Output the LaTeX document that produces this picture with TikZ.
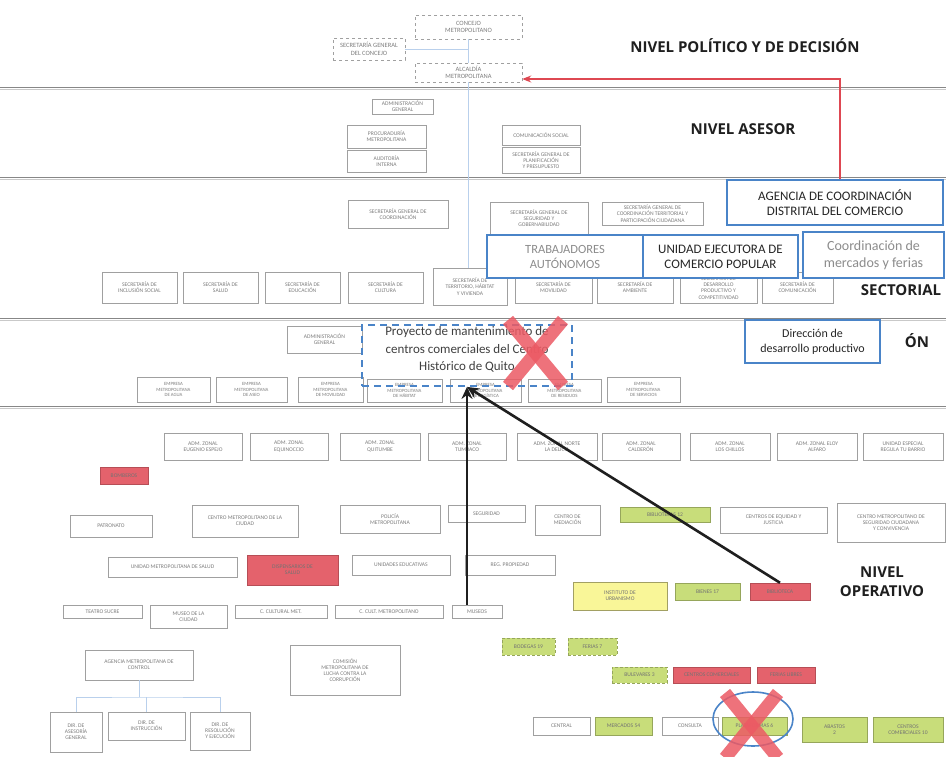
\documentclass[tikz,border=0pt]{standalone}
\usepackage{fontspec}
\setmainfont{Carlito}
\newfontfamily\lvlfont{Open Sans}
\usetikzlibrary{arrows.meta}

\definecolor{boxline}{RGB}{160,160,160}
\definecolor{boxtext}{RGB}{125,125,125}
\definecolor{redfill}{RGB}{228,98,108}
\definecolor{greenfill}{RGB}{200,221,122}
\definecolor{yellowfill}{RGB}{249,246,152}
\definecolor{bluefr}{RGB}{74,132,200}
\definecolor{arrowred}{RGB}{222,72,82}
\definecolor{crossred}{RGB}{236,90,100}
\definecolor{levelline}{RGB}{135,135,135}
\definecolor{guide}{RGB}{185,208,236}

% box from corner (x1,y1) to corner (x2,y2), in pixel units
\newcommand\orgbox[7]{%
  \node[#6, minimum width={(#4)-(#2)}, minimum height={(#5)-(#3)}]
    (#1) at ({((#2)+(#4))/2},{((#3)+(#5))/2}) {#7};}

\tikzset{
  sbox/.style={draw=boxline, line width=0.5pt, fill=white, inner sep=0pt,
    align=center, text=boxtext, font=\fontsize{5.6}{6.2}\selectfont},
  ebox/.style={sbox, font=\fontsize{4.8}{5.3}\selectfont},
  topb/.style={sbox, dashed, font=\fontsize{6.5}{7.5}\selectfont},
  redb/.style={sbox, fill=redfill, draw=redfill!80!black, text=black!55},
  grnb/.style={sbox, fill=greenfill, draw=greenfill!75!black, text=black!55},
  grnd/.style={grnb, densely dashed},
  yelb/.style={sbox, fill=yellowfill, draw=yellowfill!65!black, text=black!55},
  bluebox/.style={draw=bluefr, line width=1.8pt, fill=white, inner sep=0pt,
    align=center, text=black!85, font=\fontsize{13}{15}\selectfont},
  projbox/.style={draw=bluefr, line width=1.8pt, dash pattern=on 7pt off 5pt,
    inner sep=0pt, align=center, text=black!75, font=\fontsize{13}{17.5}\selectfont},
  lvl/.style={font=\lvlfont\bfseries\fontsize{15}{17}\selectfont, inner sep=0pt,
    align=center, text=black!88},
  levelrule/.style={draw=levelline, line width=1pt},
  levelrule2/.style={draw=levelline!45, line width=0.8pt},
  guideline/.style={draw=guide, line width=0.5pt},
  blkarrow/.style={draw=black!88, line width=2.6pt, -{Stealth[length=12pt,width=11pt]}},
  redarrow/.style={draw=arrowred, line width=1.3pt, -{Stealth[length=9pt,width=7pt]}},
  crossmark/.style={draw=crossred, line width=13pt, opacity=0.85},
}

\begin{document}
\begin{tikzpicture}[x=1pt, y=-1pt]
\useasboundingbox[fill=white] (0,0) rectangle (946,756);

% ---- level separators ----
\foreach \yy in {87,177,318,406}{
  \draw[levelrule] (0,\yy) -- (946,\yy);
  \draw[levelrule2] (0,\yy+2.5) -- (946,\yy+2.5);
}

% ---- political level ----
\orgbox{concejo}{415}{15}{522}{39}{topb}{CONCEJO\\METROPOLITANO}
\orgbox{secgen}{333}{38}{405}{60}{topb}{SECRETARÍA GENERAL\\DEL CONCEJO}
\orgbox{alcaldia}{415}{63}{522}{82}{topb}{ALCALDÍA\\METROPOLITANA}

% ---- advisory level ----
\orgbox{ases1}{372}{99}{433}{114}{sbox}{ADMINISTRACIÓN\\GENERAL}
\orgbox{ases2}{347}{125}{426}{148}{sbox}{PROCURADURÍA\\METROPOLITANA}
\orgbox{ases3}{347}{150}{426}{172}{sbox}{AUDITORÍA\\INTERNA}
\orgbox{ases4}{502}{125}{580}{145}{sbox}{COMUNICACIÓN SOCIAL}
\orgbox{ases5}{502}{147}{580}{173}{sbox}{SECRETARÍA GENERAL DE\\PLANIFICACIÓN\\Y PRESUPUESTO}

% ---- sectorial level ----
\orgbox{coord1}{348}{200}{448}{228}{sbox}{SECRETARÍA GENERAL DE\\COORDINACIÓN}
\orgbox{coord2}{490}{202}{588}{234}{sbox}{SECRETARÍA GENERAL DE\\SEGURIDAD Y\\GOBERNABILIDAD}
\orgbox{coord3}{602}{202}{703}{225}{sbox}{SECRETARÍA GENERAL DE\\COORDINACIÓN TERRITORIAL Y\\PARTICIPACIÓN CIUDADANA}

\orgbox{sec1}{102}{272}{177}{303}{sbox}{SECRETARÍA DE\\INCLUSIÓN SOCIAL}
\orgbox{sec2}{183}{272}{258}{303}{sbox}{SECRETARÍA DE\\SALUD}
\orgbox{sec3}{265}{272}{340}{303}{sbox}{SECRETARÍA DE\\EDUCACIÓN}
\orgbox{sec4}{348}{272}{423}{303}{sbox}{SECRETARÍA DE\\CULTURA}
\orgbox{sec5}{433}{268}{507}{305}{sbox}{SECRETARÍA DE\\TERRITORIO, HÁBITAT\\Y VIVIENDA}
\orgbox{sec6}{515}{272}{592}{303}{sbox}{SECRETARÍA DE\\MOVILIDAD}
\orgbox{sec7}{597}{272}{673}{303}{sbox}{SECRETARÍA DE\\AMBIENTE}
\orgbox{sec8}{680}{272}{757}{303}{sbox}{SECRETARÍA DE\\DESARROLLO\\PRODUCTIVO Y\\COMPETITIVIDAD}
\orgbox{sec9}{762}{272}{833}{303}{sbox}{SECRETARÍA DE\\COMUNICACIÓN}

% ---- faint chart connectors ----
\draw[guideline] (concejo) -- (alcaldia);
\draw[guideline] (secgen.east) -- (secgen.east -| concejo.south);
\draw[guideline] (alcaldia.south) -- (alcaldia.south |- sec5.north);

% ---- trade agency and its units ----
\orgbox{agencia}{727}{180}{943}{225}{bluebox}{AGENCIA DE COORDINACIÓN\\DISTRITAL DEL COMERCIO}
\orgbox{trabaj}{487}{235}{643}{278}{bluebox, text=black!45, font=\fontsize{12.5}{15}\selectfont}{TRABAJADORES\\AUTÓNOMOS}
\orgbox{ucp}{643}{235}{798}{278}{bluebox}{UNIDAD EJECUTORA DE\\COMERCIO POPULAR}
\orgbox{mercados}{803}{232}{944}{278}{bluebox, text=black!45, font=\fontsize{14}{17}\selectfont}{Coordinación de\\mercados y ferias}

% ---- management level ----
\orgbox{ent1}{137}{377}{210}{402}{ebox}{EMPRESA\\METROPOLITANA\\DE AGUA}
\orgbox{ent2}{216}{377}{287}{402}{ebox}{EMPRESA\\METROPOLITANA\\DE ASEO}
\orgbox{ent3}{298}{377}{363}{402}{ebox}{EMPRESA\\METROPOLITANA\\DE MOVILIDAD}
\orgbox{ent4}{367}{379}{442}{402}{ebox}{EMPRESA\\METROPOLITANA\\DE HÁBITAT}
\orgbox{ent5}{450}{379}{521}{402}{ebox}{EMPRESA\\METROPOLITANA\\DE LOGÍSTICA}
\orgbox{ent6}{528}{379}{601}{402}{ebox}{EMPRESA\\METROPOLITANA\\DE RESIDUOS}
\orgbox{ent7}{607}{377}{680}{402}{ebox}{EMPRESA\\METROPOLITANA\\DE SERVICIOS}

\orgbox{gestion}{287}{326}{362}{353}{sbox}{ADMINISTRACIÓN\\GENERAL}
\orgbox{proyecto}{362}{325}{572}{386}{projbox}{Proyecto de mantenimiento de\\centros comerciales del Centro\\Histórico de Quito\\[-4pt]}
\orgbox{direccion}{745}{320}{880}{363}{bluebox, font=\fontsize{12}{15}\selectfont}{Dirección de\\desarrollo productivo}

% ---- operative level: zonal administrations ----
\orgbox{zona1}{164}{433}{242}{460}{sbox}{ADM. ZONAL\\EUGENIO ESPEJO}
\orgbox{zona2}{250}{433}{328}{460}{sbox}{ADM. ZONAL\\EQUINOCCIO}
\orgbox{zona3}{340}{433}{420}{460}{sbox}{ADM. ZONAL\\QUITUMBE}
\orgbox{zona4}{428}{433}{506}{460}{sbox}{ADM. ZONAL\\TUMBACO}
\orgbox{zona5}{517}{433}{597}{460}{sbox}{ADM. ZONAL NORTE\\LA DELICIA}
\orgbox{zona6}{602}{433}{680}{460}{sbox}{ADM. ZONAL\\CALDERÓN}
\orgbox{zona7}{690}{433}{770}{460}{sbox}{ADM. ZONAL\\LOS CHILLOS}
\orgbox{zona8}{777}{433}{857}{460}{sbox}{ADM. ZONAL ELOY\\ALFARO}
\orgbox{zona9}{863}{433}{943}{460}{sbox}{UNIDAD ESPECIAL\\REGULA TU BARRIO}

\orgbox{bomb}{100}{467}{148}{484}{redb}{BOMBEROS}

% ---- operative level: units ----
\orgbox{ra1}{70}{515}{152}{537}{sbox}{PATRONATO}
\orgbox{ra2}{192}{505}{298}{537}{sbox}{CENTRO METROPOLITANO DE LA\\CIUDAD}
\orgbox{ra3}{340}{505}{440}{533}{sbox}{POLICÍA\\METROPOLITANA}
\orgbox{ra4}{448}{505}{525}{522}{sbox}{SEGURIDAD}
\orgbox{ra5}{535}{505}{600}{535}{sbox}{CENTRO DE\\MEDIACIÓN}
\orgbox{ra6}{620}{507}{710}{522}{grnb}{BIBLIOTECAS 12}
\orgbox{ra7}{720}{507}{827}{533}{sbox}{CENTROS DE EQUIDAD Y\\JUSTICIA}
\orgbox{ra8}{837}{503}{945}{542}{sbox}{CENTRO METROPOLITANO DE\\SEGURIDAD CIUDADANA\\Y CONVIVENCIA}

\orgbox{rb1}{108}{557}{237}{577}{sbox}{UNIDAD METROPOLITANA DE SALUD}
\orgbox{rb2}{247}{555}{338}{585}{redb}{DISPENSARIOS DE\\SALUD}
\orgbox{rb3}{352}{555}{450}{575}{sbox}{UNIDADES EDUCATIVAS}
\orgbox{rb4}{465}{555}{555}{575}{sbox}{REG. PROPIEDAD}

\orgbox{rb5}{573}{582}{667}{610}{yelb}{INSTITUTO DE\\URBANISMO}
\orgbox{rb6}{675}{583}{740}{600}{grnb}{BIENES 17}
\orgbox{rb7}{750}{583}{810}{600}{redb}{BIBLIOTECA}

\orgbox{rc1}{63}{605}{142}{618}{sbox}{TEATRO SUCRE}
\orgbox{rc2}{150}{605}{227}{628}{sbox}{MUSEO DE LA\\CIUDAD}
\orgbox{rc3}{235}{605}{327}{618}{sbox}{C. CULTURAL MET.}
\orgbox{rc4}{335}{605}{443}{618}{sbox}{C. CULT. METROPOLITANO}
\orgbox{rc5}{452}{605}{502}{618}{sbox}{MUSEOS}

\orgbox{rc6}{502}{638}{555}{655}{grnd}{BODEGAS 19}
\orgbox{rc7}{568}{638}{617}{655}{grnd}{FERIAS 7}

\orgbox{rd1}{85}{650}{193}{680}{sbox}{AGENCIA METROPOLITANA DE\\CONTROL}
\orgbox{rd2}{290}{645}{400}{695}{sbox}{COMISIÓN\\METROPOLITANA DE\\LUCHA CONTRA LA\\CORRUPCIÓN}
\orgbox{rd3}{612}{667}{667}{683}{grnd}{BULEVARES 3}
\orgbox{rd4}{673}{667}{750}{683}{redb}{CENTROS COMERCIALES}
\orgbox{rd5}{757}{667}{815}{683}{redb}{FERIAS LIBRES}

\orgbox{re1}{50}{712}{102}{752}{sbox}{DIR. DE\\ASESORÍA\\GENERAL}
\orgbox{re2}{108}{712}{185}{740}{sbox}{DIR. DE\\INSTRUCCIÓN}
\orgbox{re3}{190}{712}{250}{750}{sbox}{DIR. DE\\RESOLUCIÓN\\Y EJECUCIÓN}

\orgbox{re4}{533}{717}{590}{735}{sbox}{CENTRAL}
\orgbox{re5}{595}{717}{652}{735}{grnb}{MERCADOS 54}
\orgbox{re6}{662}{717}{718}{735}{sbox}{CONSULTA}
\orgbox{re7}{722}{717}{787}{735}{grnb}{PLATAFORMAS 6}
\orgbox{re8}{802}{717}{867}{742}{grnb}{ABASTOS\\2}
\orgbox{re9}{873}{717}{943}{742}{grnb}{CENTROS\\COMERCIALES 10}

% control agency and its directions
\coordinate (ctlbus) at (0,697);
\draw[guideline] (rd1.south) -- (rd1.south |- ctlbus);
\draw[guideline] (re1.north) |- (ctlbus -| re2.north) -| (re3.north);
\draw[guideline] (re2.north) -- (re2.north |- ctlbus);

% ---- level labels ----
\node[lvl] (lpol) at (745,46) {NIVEL POLÍTICO Y DE DECISIÓN};
\node[lvl] (lase) at (743,129) {NIVEL ASESOR};
\node[lvl] (lsec) at (901,290) {SECTORIAL};
\node[lvl] (lon)  at (917,341) {ÓN};
\node[lvl] (lope) at (882,582) {NIVEL\\[2pt]OPERATIVO};

% ---- reporting arrows ----
\coordinate (redturn) at (840,79);
\draw[redarrow] (agencia.north -| redturn) -- (redturn) -- (alcaldia.east |- redturn);
\draw[blkarrow] (rc5.north -| proyecto.south) -- (proyecto.south);
\draw[blkarrow] (rb7.north) -- (proyecto.south);

% ---- cancelled items ----
\draw[bluefr, line width=1.6pt] (753,719) ellipse [x radius=40, y radius=27];
\draw[crossmark] (508,320) -- (563,386);
\draw[crossmark] (563,320) -- (508,386);
\draw[crossmark] (725,693) -- (778,758);
\draw[crossmark] (778,693) -- (725,758);
\end{tikzpicture}
\end{document}
